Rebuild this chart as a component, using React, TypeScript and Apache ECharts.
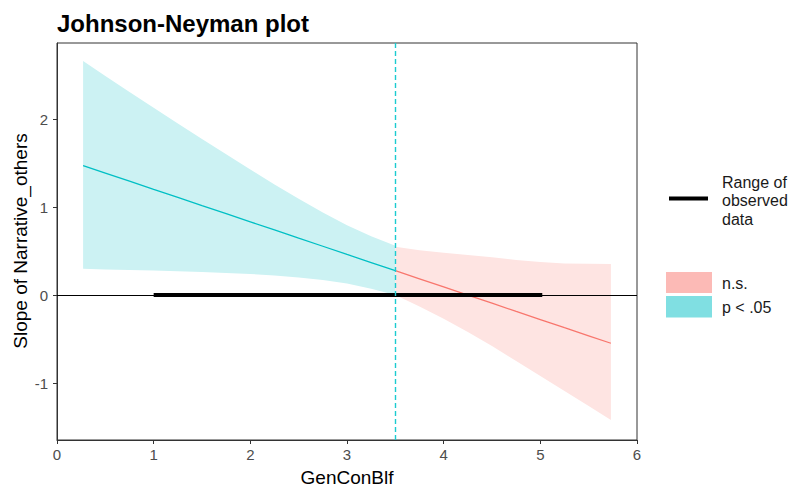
import React, { useEffect, useRef } from "react";
import * as echarts from "echarts";

// Significant region (p < .05)
const sigX = [0.27, 0.5, 0.75, 1.0, 1.25, 1.5, 1.75, 2.0, 2.25, 2.5, 2.75, 3.0, 3.25, 3.5];
const sigEst = [1.472, 1.387, 1.295, 1.202, 1.11, 1.017, 0.925, 0.832, 0.74, 0.647, 0.555, 0.462, 0.37, 0.277];
const sigLower = [0.3, 0.292, 0.285, 0.278, 0.27, 0.262, 0.252, 0.24, 0.222, 0.2, 0.171, 0.131, 0.071, 0.0];
const sigUpper = [2.66, 2.49, 2.31, 2.13, 1.95, 1.775, 1.6, 1.427, 1.258, 1.094, 0.938, 0.793, 0.668, 0.56];

// Non-significant region (n.s.)
const nsX = [3.5, 3.75, 4.0, 4.25, 4.5, 4.75, 5.0, 5.25, 5.5, 5.73];
const nsEst = [0.277, 0.185, 0.092, -0.001, -0.093, -0.186, -0.278, -0.371, -0.463, -0.548];
const nsLower = [0.0, -0.13, -0.27, -0.42, -0.58, -0.75, -0.92, -1.09, -1.26, -1.42];
const nsUpper = [0.55, 0.51, 0.48, 0.455, 0.43, 0.4, 0.375, 0.36, 0.355, 0.352];

const observedRange = [1.0, 5.02];
const jnPoint = 3.5;
const yTicks = [-1, 0, 1, 2];

const TEAL = "#00BFC4";
const RED = "#F8766D";
const FONT = "Liberation Sans, Arial, sans-serif";

function bandSeries(xs: number[], lo: number[], hi: number[], fill: string) {
  return {
    type: "custom",
    silent: true,
    clip: true,
    z: 1,
    data: [[xs[0], lo[0]]],
    renderItem: (_params: any, api: any) => {
      const pts: number[][] = [];
      for (let i = 0; i < xs.length; i++) pts.push(api.coord([xs[i], hi[i]]));
      for (let i = xs.length - 1; i >= 0; i--) pts.push(api.coord([xs[i], lo[i]]));
      return { type: "polygon", shape: { points: pts }, style: { fill } };
    },
  };
}

export default function App() {
  const ref = useRef<HTMLDivElement>(null);
  useEffect(() => {
    if (!ref.current) return;
    const chart = echarts.init(ref.current, null, { renderer: "svg" });
    const option: any = {
      animation: false,
      backgroundColor: "#ffffff",
      title: {
        text: "Johnson-Neyman plot",
        left: 52,
        top: 6,
        textStyle: { fontSize: 24, fontWeight: "bold", color: "#000", fontFamily: FONT },
      },
      grid: {
        left: 57,
        right: 156,
        top: 43,
        bottom: 49,
        show: true,
        borderColor: "#333333",
        borderWidth: 1,
        backgroundColor: "transparent",
      },
      xAxis: {
        type: "value",
        min: 0,
        max: 6,
        interval: 1,
        axisLine: { show: true, onZero: false, lineStyle: { color: "#333333", width: 1 } },
        axisTick: { show: true, length: 4, lineStyle: { color: "#333333" } },
        axisLabel: { color: "#4D4D4D", fontSize: 15, margin: 7, fontFamily: FONT },
        splitLine: { show: false },
      },
      yAxis: {
        type: "value",
        min: -1.648,
        max: 2.866,
        axisLine: { show: true, onZero: false, lineStyle: { color: "#333333", width: 1 } },
        axisTick: { show: true, length: 4, customValues: yTicks, lineStyle: { color: "#333333" } },
        axisLabel: { color: "#4D4D4D", fontSize: 15, margin: 9, fontFamily: FONT, customValues: yTicks },
        splitLine: { show: false },
      },
      series: [
        bandSeries(sigX, sigLower, sigUpper, "#CCF2F3"),
        bandSeries(nsX, nsLower, nsUpper, "#FEE4E2"),
        {
          type: "line",
          data: sigX.map((x, i) => [x, sigEst[i]]),
          showSymbol: false,
          lineStyle: { color: TEAL, width: 1.3 },
          z: 3,
          silent: true,
        },
        {
          type: "line",
          data: nsX.map((x, i) => [x, nsEst[i]]),
          showSymbol: false,
          lineStyle: { color: RED, width: 1.3 },
          z: 3,
          silent: true,
        },
        {
          type: "line",
          data: [],
          z: 2,
          silent: true,
          markLine: {
            silent: true,
            symbol: ["none", "none"],
            label: { show: false },
            lineStyle: { color: "#000000", width: 1, type: "solid" },
            data: [{ yAxis: 0 }],
          },
        },
        {
          type: "line",
          data: observedRange.map((x) => [x, 0]),
          showSymbol: false,
          lineStyle: { color: "#000000", width: 4, cap: "butt" },
          z: 4,
          silent: true,
        },
        {
          type: "line",
          data: [],
          z: 5,
          silent: true,
          markLine: {
            silent: true,
            symbol: ["none", "none"],
            label: { show: false },
            lineStyle: { color: "#1CCBD0", width: 1.4, type: [5, 3] },
            data: [{ xAxis: jnPoint }],
          },
        },
      ],
      graphic: [
        {
          type: "text",
          x: 347,
          y: 477,
          style: {
            text: "GenConBlf",
            fontSize: 19,
            fontFamily: FONT,
            fill: "#000",
            align: "center",
            verticalAlign: "middle",
          },
        },
        {
          type: "text",
          x: 20,
          y: 241,
          rotation: Math.PI / 2,
          style: {
            text: "Slope of Narrative_others",
            fontSize: 19,
            fontFamily: FONT,
            fill: "#000",
            align: "center",
            verticalAlign: "middle",
          },
        },
        {
          type: "line",
          shape: { x1: 669, y1: 198.5, x2: 708, y2: 198.5 },
          style: { stroke: "#000", lineWidth: 4 },
        },
        {
          type: "text",
          x: 722,
          y: 200.5,
          style: {
            text: "Range of\nobserved\ndata",
            fontSize: 16,
            lineHeight: 18.5,
            fontFamily: FONT,
            fill: "#1A1A1A",
            align: "left",
            verticalAlign: "middle",
          },
        },
        {
          type: "rect",
          shape: { x: 666, y: 272, width: 46, height: 21 },
          style: { fill: "#FCBAB6" },
        },
        {
          type: "rect",
          shape: { x: 666, y: 296, width: 46, height: 21.5 },
          style: { fill: "#80DFE2" },
        },
        {
          type: "text",
          x: 722,
          y: 283,
          style: { text: "n.s.", fontSize: 16, fontFamily: FONT, fill: "#1A1A1A", align: "left", verticalAlign: "middle" },
        },
        {
          type: "text",
          x: 722,
          y: 307,
          style: { text: "p < .05", fontSize: 16, fontFamily: FONT, fill: "#1A1A1A", align: "left", verticalAlign: "middle" },
        },
      ],
    };
    chart.setOption(option);
    return () => chart.dispose();
  }, []);
  return (
    <div
      ref={ref}
      style={{ position: "fixed", left: 0, top: 0, width: 793, height: 489, background: "#fff" }}
    />
  );
}
